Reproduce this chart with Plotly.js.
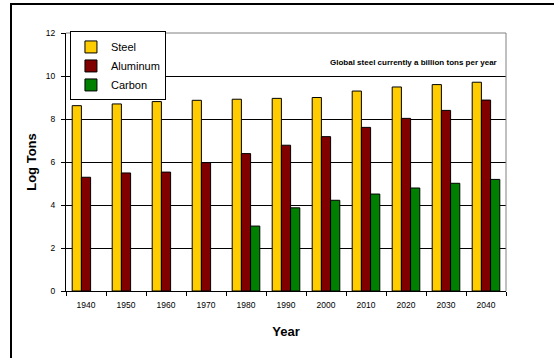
<!DOCTYPE html>
<html>
<head>
<meta charset="utf-8">
<script src="https://cdn.plot.ly/plotly-3.0.1.min.js"></script>
<style>
html,body{margin:0;padding:0;background:#fff;}
#chart{width:554px;height:358px;}
</style>
</head>
<body>
<div id="chart"></div>
<script>
const years = ['1940','1950','1960','1970','1980','1990','2000','2010','2020','2030','2040'];
const steel = [8.62, 8.70, 8.81, 8.87, 8.92, 8.96, 9.00, 9.30, 9.49, 9.60, 9.71];
const aluminum = [5.29, 5.49, 5.53, 5.97, 6.39, 6.78, 7.18, 7.61, 8.03, 8.40, 8.88];
const carbon = [null, null, null, null, 3.02, 3.87, 4.22, 4.51, 4.79, 5.01, 5.19];
const yTicks = [0, 2, 4, 6, 8, 10, 12];

const font = 'Liberation Sans, Arial, sans-serif';
const mk = (name, y, color) => ({
  type: 'bar', name: name, x: years, y: y,
  marker: {color: color, line: {color: '#000', width: 1}},
  hoverinfo: 'x+y+name'
});
const data = [
  mk('Steel', steel, '#FFCC00'),
  mk('Aluminum', aluminum, '#800000'),
  mk('Carbon', carbon, '#008000')
];
const layout = {
  width: 554, height: 358,
  margin: {l: 66, r: 48, t: 33, b: 67},
  paper_bgcolor: '#fff', plot_bgcolor: '#fff',
  font: {family: font, color: '#000'},
  barmode: 'group', bargap: 0.31, bargroupgap: 0,
  showlegend: true,
  legend: {
    x: 0.009, y: 1.006, xanchor: 'left', yanchor: 'top',
    bgcolor: '#fff', bordercolor: '#000', borderwidth: 1,
    font: {size: 11, family: font}, tracegroupgap: 0,
    itemwidth: 30
  },
  xaxis: {
    type: 'category',
    tickfont: {size: 8.5, family: font},
    ticks: 'outside', ticklen: 4, tickcolor: '#000', tickson: 'boundaries',
    ticklabelstandoff: 6,
    showline: true, linecolor: '#000', linewidth: 1,
    showgrid: false,
    title: {text: 'Year', font: {size: 13, family: font, weight: 'bold'}, standoff: 17}
  },
  yaxis: {
    range: [0, 12], tickvals: yTicks, ticktext: yTicks.map(String),
    tickfont: {size: 8.5, family: font},
    ticks: 'outside', ticklen: 4, tickcolor: '#000',
    ticklabelstandoff: 4,
    showline: true, linecolor: '#000', linewidth: 1,
    showgrid: true, gridcolor: '#000', gridwidth: 1,
    zeroline: false,
    title: {text: 'Log Tons', font: {size: 13, family: font, weight: 'bold'}, standoff: 6}
  },
  shapes: [
    {type: 'line', xref: 'paper', yref: 'paper', x0: 0, x1: 1, y0: 1, y1: 1, line: {color: '#808080', width: 1}},
    {type: 'line', xref: 'paper', yref: 'paper', x0: 1, x1: 1, y0: 0, y1: 1, line: {color: '#808080', width: 1}},
    {type: 'rect', xref: 'paper', yref: 'paper', x0: -0.125, x1: 1.3, y0: -0.4, y1: 1.112, line: {color: '#000', width: 2}, layer: 'below'}
  ],
  annotations: [
    {xref: 'paper', yref: 'paper', x: 0.984, y: 0.884, xanchor: 'right', yanchor: 'middle',
     text: 'Global steel currently a billion tons per year', showarrow: false,
     font: {size: 8, family: font, weight: 'bold'}}
  ]
};
Plotly.newPlot('chart', data, layout, {displayModeBar: false, staticPlot: true});
</script>
</body>
</html>
